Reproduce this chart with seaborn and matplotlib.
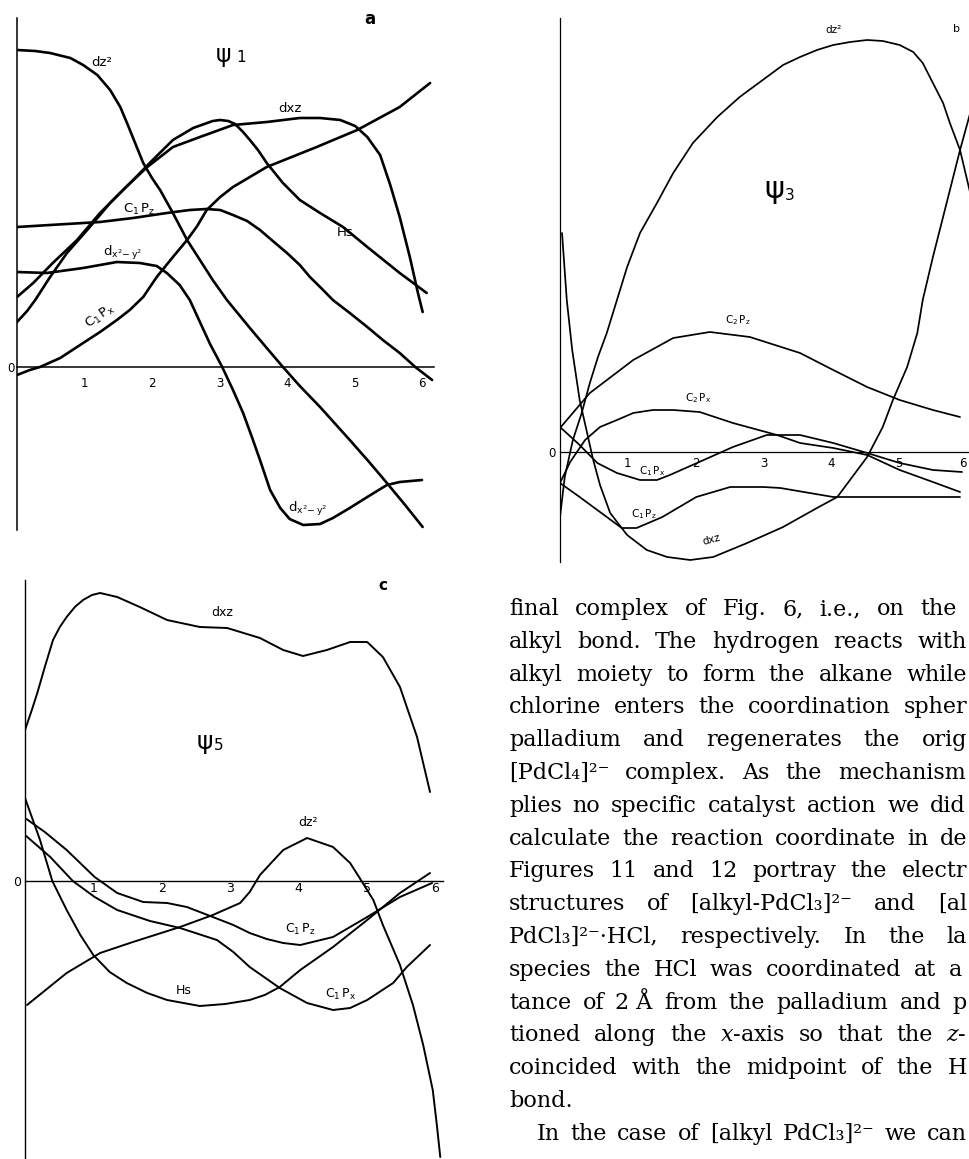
import matplotlib
matplotlib.use("Agg")
import matplotlib.pyplot as plt
import pandas as pd
import seaborn as sns

# ---------------------------------------------------------------------------
# LCAO coefficients along the reaction coordinate (x in Angstrom, y arbitrary)
# ---------------------------------------------------------------------------

# (a) psi_1
A_DZ2_X = [0.0, 0.27, 0.49, 0.79, 0.98, 1.19, 1.38, 1.53, 1.63, 1.75, 1.87, 2.00, 2.12, 2.31,
           2.52, 2.71, 2.90, 3.11, 3.45, 3.70, 3.94, 4.19, 4.49, 4.93, 5.23, 5.48, 5.75, 6.01]
A_DZ2_Y = [3.17, 3.16, 3.14, 3.09, 3.02, 2.92, 2.77, 2.60, 2.44, 2.24, 2.04, 1.89, 1.77, 1.54,
           1.27, 1.07, 0.87, 0.67, 0.39, 0.19, 0.00, -0.19, -0.40, -0.73, -0.96, -1.16, -1.38, -1.60]

A_DXZ_X = [0.0, 0.24, 0.53, 0.89, 1.23, 1.57, 1.93, 2.31, 2.71, 3.20, 3.70, 4.19, 4.49, 4.79,
           5.01, 5.19, 5.38, 5.53, 5.67, 5.82, 5.94, 6.01]
A_DXZ_Y = [0.70, 0.84, 1.04, 1.27, 1.54, 1.77, 2.00, 2.20, 2.30, 2.42, 2.45, 2.49, 2.49, 2.47,
           2.41, 2.30, 2.12, 1.82, 1.50, 1.10, 0.74, 0.55]

A_HS_X = [0.0, 0.15, 0.27, 0.49, 0.74, 1.04, 1.38, 1.72, 2.01, 2.31, 2.61, 2.90, 3.01, 3.13,
          3.23, 3.35, 3.45, 3.57, 3.70, 3.94, 4.19, 4.49, 4.83, 5.19, 5.67, 6.07]
A_HS_Y = [0.45, 0.56, 0.67, 0.90, 1.14, 1.37, 1.64, 1.87, 2.07, 2.27, 2.39, 2.46, 2.47, 2.46,
          2.43, 2.35, 2.27, 2.17, 2.04, 1.84, 1.67, 1.54, 1.40, 1.20, 0.94, 0.74]

A_C1PZ_X = [0.0, 0.49, 1.23, 1.72, 2.22, 2.56, 2.81, 3.01, 3.20, 3.41, 3.60, 3.79, 4.00, 4.19,
            4.34, 4.52, 4.68, 4.93, 5.19, 5.42, 5.67, 5.90, 6.15]
A_C1PZ_Y = [1.40, 1.42, 1.45, 1.49, 1.54, 1.57, 1.58, 1.57, 1.52, 1.46, 1.37, 1.26, 1.14, 1.02,
            0.90, 0.78, 0.67, 0.54, 0.40, 0.27, 0.14, 0.00, -0.13]

A_C1PX_X = [0.0, 0.19, 0.34, 0.64, 0.98, 1.23, 1.48, 1.67, 1.87, 2.07, 2.31, 2.52, 2.67, 2.81,
            3.01, 3.20, 3.70, 4.44, 5.04, 5.67, 6.12]
A_C1PX_Y = [-0.08, -0.03, 0.00, 0.09, 0.24, 0.35, 0.47, 0.57, 0.70, 0.90, 1.10, 1.27, 1.41, 1.57,
            1.70, 1.80, 2.00, 2.20, 2.37, 2.60, 2.84]

A_DX2Y2_X = [0.0, 0.44, 0.98, 1.48, 1.82, 2.07, 2.22, 2.41, 2.56, 2.71, 2.86, 3.04, 3.20, 3.35,
             3.48, 3.60, 3.75, 3.90, 4.04, 4.24, 4.49, 4.68, 4.93, 5.19, 5.48, 5.67, 6.00]
A_DX2Y2_Y = [0.95, 0.94, 0.99, 1.05, 1.04, 1.01, 0.94, 0.82, 0.67, 0.45, 0.23, 0.00, -0.23, -0.46,
             -0.70, -0.93, -1.23, -1.41, -1.52, -1.58, -1.57, -1.51, -1.41, -1.30, -1.18, -1.15, -1.13]

# (b) psi_3
B_DZ2_X = [0.0, 0.07, 0.19, 0.32, 0.44, 0.56, 0.69, 0.84, 0.99, 1.18, 1.43, 1.67, 1.96, 2.32,
           2.65, 3.05, 3.29, 3.54, 3.79, 4.03, 4.28, 4.53, 4.76, 5.01, 5.21, 5.35, 5.50, 5.65,
           5.75, 5.90, 6.05]
B_DZ2_Y = [-0.65, -0.25, 0.12, 0.39, 0.69, 0.95, 1.19, 1.52, 1.85, 2.19, 2.49, 2.79, 3.09, 3.35,
           3.55, 3.75, 3.87, 3.95, 4.02, 4.07, 4.10, 4.12, 4.11, 4.07, 4.00, 3.89, 3.69, 3.49,
           3.29, 3.02, 2.59]

B_DXZ_X = [0.03, 0.10, 0.18, 0.29, 0.40, 0.49, 0.59, 0.74, 0.99, 1.28, 1.58, 1.92, 2.26, 2.76,
           3.29, 3.79, 4.09, 4.53, 4.76, 4.91, 5.12, 5.27, 5.35, 5.50, 5.65, 5.90, 6.05]
B_DXZ_Y = [2.19, 1.52, 1.02, 0.52, 0.19, -0.08, -0.33, -0.61, -0.83, -0.98, -1.05, -1.08, -1.05,
           -0.91, -0.75, -0.56, -0.45, -0.05, 0.25, 0.52, 0.85, 1.19, 1.52, 1.95, 2.35, 3.02, 3.39]

B_C2PZ_X = [0.0, 0.44, 1.08, 1.67, 2.21, 2.80, 3.54, 4.03, 4.53, 5.01, 5.50, 5.90]
B_C2PZ_Y = [0.24, 0.59, 0.92, 1.14, 1.20, 1.15, 0.99, 0.82, 0.65, 0.52, 0.42, 0.35]

B_C2PX_X = [0.0, 0.15, 0.37, 0.59, 0.84, 1.08, 1.37, 1.67, 2.06, 2.55, 3.20, 3.54, 4.03, 4.53,
            5.01, 5.50, 5.90]
B_C2PX_Y = [-0.31, -0.10, 0.12, 0.25, 0.32, 0.39, 0.42, 0.42, 0.40, 0.29, 0.17, 0.09, 0.04,
            -0.03, -0.18, -0.30, -0.40]

B_C1PX_X = [0.0, 0.29, 0.55, 0.84, 1.18, 1.43, 1.62, 2.02, 2.55, 3.05, 3.54, 4.03, 4.53, 5.01,
            5.50, 5.93]
B_C1PX_Y = [0.25, 0.07, -0.11, -0.21, -0.28, -0.28, -0.23, -0.11, 0.05, 0.17, 0.17, 0.09, -0.01,
            -0.11, -0.18, -0.20]

B_C1PZ_X = [0.0, 0.29, 0.55, 0.91, 1.13, 1.51, 2.01, 2.51, 3.00, 3.25, 4.03, 5.01, 5.90]
B_C1PZ_Y = [-0.31, -0.45, -0.58, -0.76, -0.76, -0.65, -0.45, -0.35, -0.35, -0.36, -0.45, -0.45, -0.45]

# (c) psi_5
C_DXZ_X = [0.0, 0.10, 0.18, 0.29, 0.41, 0.51, 0.61, 0.73, 0.85, 0.98, 1.10, 1.35, 1.68, 2.08,
           2.56, 2.96, 3.44, 3.78, 4.07, 4.42, 4.76, 5.01, 5.24, 5.49, 5.74, 5.93]
C_DXZ_Y = [1.51, 1.71, 1.88, 2.14, 2.41, 2.54, 2.64, 2.74, 2.81, 2.86, 2.88, 2.84, 2.74, 2.61,
           2.54, 2.53, 2.43, 2.31, 2.25, 2.31, 2.39, 2.39, 2.24, 1.94, 1.44, 0.89]

C_DZ2_X = [0.03, 0.61, 1.10, 1.58, 2.27, 2.75, 3.15, 3.29, 3.44, 3.78, 4.13, 4.51, 4.76, 4.90,
           5.10, 5.24, 5.49, 5.68, 5.83, 5.97, 6.03, 6.08]
C_DZ2_Y = [-1.24, -0.92, -0.72, -0.61, -0.46, -0.34, -0.22, -0.11, 0.06, 0.31, 0.43, 0.34, 0.18,
           0.03, -0.19, -0.44, -0.84, -1.24, -1.64, -2.09, -2.44, -2.76]

C_HS_X = [0.0, 0.22, 0.40, 0.61, 0.81, 1.00, 1.24, 1.49, 1.79, 2.08, 2.56, 2.93, 3.29, 3.51,
          3.73, 4.03, 4.51, 5.01, 5.49, 5.93]
C_HS_Y = [0.83, 0.41, 0.00, -0.29, -0.54, -0.74, -0.91, -1.02, -1.12, -1.19, -1.25, -1.23,
          -1.19, -1.14, -1.06, -0.89, -0.66, -0.39, -0.12, 0.08]

C_C1PZ_X = [0.0, 0.29, 0.61, 1.02, 1.35, 1.73, 2.08, 2.37, 2.75, 3.05, 3.29, 3.54, 3.78, 4.03,
            4.51, 5.01, 5.49, 5.96]
C_C1PZ_Y = [0.63, 0.49, 0.31, 0.04, -0.12, -0.21, -0.22, -0.26, -0.36, -0.44, -0.52, -0.58,
            -0.62, -0.64, -0.56, -0.36, -0.16, -0.02]

C_C1PX_X = [0.0, 0.37, 0.70, 1.02, 1.35, 1.83, 2.27, 2.81, 3.05, 3.29, 3.73, 4.13, 4.51, 4.76,
            5.01, 5.39, 5.59, 5.93]
C_C1PX_Y = [0.46, 0.24, 0.00, -0.16, -0.29, -0.40, -0.47, -0.59, -0.71, -0.86, -1.07, -1.22,
            -1.29, -1.27, -1.19, -1.02, -0.86, -0.64]

X_TICKS = [1, 2, 3, 4, 5, 6]
X_TICK_LABELS = ["1", "2", "3", "4", "5", "6"]

# Running text set beside panel c
TEXT_LINES = [
    "final complex of Fig. 6, i.e., on the",
    "alkyl bond. The hydrogen reacts with",
    "alkyl moiety to form the alkane while",
    "chlorine enters the coordination spher",
    "palladium and regenerates the orig",
    "[PdCl\u2084]\u00b2\u207b complex. As the mechanism",
    "plies no specific catalyst action we did",
    "calculate the reaction coordinate in de",
    "Figures 11 and 12 portray the electr",
    "structures of [alkyl-PdCl\u2083]\u00b2\u207b and [al",
    "PdCl\u2083]\u00b2\u207b\u00b7HCl, respectively. In the la",
    "species the HCl was coordinated at a",
    "tance of 2\u00a0\u00c5 from the palladium and p",
    "tioned along the $x$-axis so that the $z$-",
    "coincided with the midpoint of the H",
    "bond.",
    "In the case of [alkyl PdCl\u2083]\u00b2\u207b we can",
]

# ---------------------------------------------------------------------------
sns.set_theme(style="white", rc={
    "axes.edgecolor": "black", "text.color": "black",
    "xtick.color": "black", "ytick.color": "black", "axes.labelcolor": "black",
})
plt.rcParams["font.family"] = ["DejaVu Sans"]
plt.rcParams["mathtext.fontset"] = "custom"
plt.rcParams["mathtext.rm"] = "DejaVu Sans"
plt.rcParams["mathtext.it"] = "DejaVu Serif:italic"

FW, FH = 970, 1159
fig = plt.figure(figsize=(FW / 100, FH / 100), dpi=100)
fig.patch.set_facecolor("white")


def box(left, top, right, bottom):
    return [left / FW, 1 - bottom / FH, (right - left) / FW, (bottom - top) / FH]


def frame(curves):
    parts = [pd.DataFrame({"x": xs, "y": ys, "orbital": name}) for name, xs, ys in curves]
    return pd.concat(parts, ignore_index=True)


def style(ax, xmax, ylo, yhi, lab_size, lab_pad, tick_len, zero_pad, spine_w):
    ax.set_xlim(0, xmax)
    ax.set_ylim(ylo, yhi)
    ax.patch.set_alpha(0)
    for side in ("top", "right"):
        ax.spines[side].set_visible(False)
    ax.spines["bottom"].set_position(("data", 0))
    ax.spines["bottom"].set_bounds(0, xmax)
    ax.spines["bottom"].set_linewidth(spine_w)
    ax.spines["left"].set_linewidth(spine_w)
    ax.set_xticks(X_TICKS)
    ax.set_xticklabels(X_TICK_LABELS)
    ax.tick_params(axis="x", direction="in", length=tick_len, width=0.8,
                   pad=lab_pad, labelsize=lab_size)
    ax.set_yticks([0])
    ax.set_yticklabels(["0"])
    ax.tick_params(axis="y", length=0, pad=zero_pad, labelsize=lab_size)
    ax.set_xlabel("")
    ax.set_ylabel("")


def draw(ax, curves, lw):
    sns.lineplot(data=frame(curves), x="x", y="y", units="orbital", estimator=None,
                 sort=False, color="black", lw=lw, legend=False, ax=ax,
                 solid_joinstyle="round", solid_capstyle="round")


# ----- panel a -----
ax_a = fig.add_axes(box(17, 18, 434, 530))
draw(ax_a, [
    ("dz2", A_DZ2_X, A_DZ2_Y),
    ("dxz", A_DXZ_X, A_DXZ_Y),
    ("Hs", A_HS_X, A_HS_Y),
    ("C1Pz", A_C1PZ_X, A_C1PZ_Y),
    ("C1Px", A_C1PX_X, A_C1PX_Y),
    ("dx2-y2", A_DX2Y2_X, A_DX2Y2_Y),
], lw=1.9)
style(ax_a, 6.178, -1.63, 3.49, 8.5, 7, 3.5, 1.5, 1.1)

# ----- panel b -----
ax_b = fig.add_axes(box(560, 18, 970, 562))
draw(ax_b, [
    ("dz2", B_DZ2_X, B_DZ2_Y),
    ("dxz", B_DXZ_X, B_DXZ_Y),
    ("C2Pz", B_C2PZ_X, B_C2PZ_Y),
    ("C2Px", B_C2PX_X, B_C2PX_Y),
    ("C1Px", B_C1PX_X, B_C1PX_Y),
    ("C1Pz", B_C1PZ_X, B_C1PZ_Y),
], lw=1.25)
style(ax_b, 6.047, -1.10, 4.34, 8.5, 3.5, 3.0, 3.0, 0.9)
ax_b.get_xticklabels()[-1].set_horizontalalignment("right")

# ----- panel c -----
ax_c = fig.add_axes(box(25, 580, 443, 1159))
draw(ax_c, [
    ("dxz", C_DXZ_X, C_DXZ_Y),
    ("dz2", C_DZ2_X, C_DZ2_Y),
    ("Hs", C_HS_X, C_HS_Y),
    ("C1Pz", C_C1PZ_X, C_C1PZ_Y),
    ("C1Px", C_C1PX_X, C_C1PX_Y),
], lw=1.4)
style(ax_c, 6.12, -2.78, 3.01, 9, 1.0, 3.0, 3.0, 1.0)


def label(x, y, s, size, rot=0, weight="normal"):
    fig.text(x / FW, 1 - y / FH, s, ha="center", va="center", fontsize=size,
             rotation=rot, fontweight=weight, family="DejaVu Sans")


C1PZ = r"$\mathregular{C_1\,P_z}$"
C1PX = r"$\mathregular{C_1\,P_x}$"
C2PZ = r"$\mathregular{C_2\,P_z}$"
C2PX = r"$\mathregular{C_2\,P_x}$"
DX2Y2 = r"$\mathregular{d_{x^2\!-y^2}}$"

# panel a annotations
label(370, 19, "a", 12, weight="bold")
label(224, 55, "\u03c8", 17)
label(241, 58, "1", 11)
label(102, 62, "dz\u00b2", 9.5)
label(290, 109, "dxz", 9.5)
label(139, 209, C1PZ, 9.5)
label(345, 233, "Hs", 9.5)
label(123, 253, DX2Y2, 9.5)
label(100, 316, C1PX, 9.5, rot=35)
label(308, 509, DX2Y2, 9.5)

# panel b annotations
label(834, 30, "dz\u00b2", 7.5)
label(957, 29, "b", 8)
label(774, 190, "\u03c8", 22)
label(790, 196, "3", 11)
label(738, 320, C2PZ, 7.5)
label(698, 398, C2PX, 7.5)
label(652, 471, C1PX, 7.5)
label(644, 514, C1PZ, 7.5)
label(711, 540, "dxz", 7.5, rot=15)

# panel c annotations
label(383, 585, "c", 11, weight="bold")
label(222, 613, "dxz", 9)
label(205, 742, "\u03c8", 18)
label(219, 745, "5", 11)
label(308, 823, "dz\u00b2", 9)
label(300, 929, C1PZ, 9)
label(184, 990, "Hs", 9)
label(341, 994, C1PX, 9)

# ----- justified text column -----
SERIF = ["DejaVu Serif", "DejaVu Sans"]
renderer = fig.canvas.get_renderer()


def text_width(s, size):
    t = fig.text(0, 0, s, fontsize=size, family=SERIF)
    w = t.get_window_extent(renderer).width
    t.remove()
    return w


line_left = [509] * len(TEXT_LINES)
line_left[-1] = 537
line_right = [957, 967, 967, 967, 967, 966, 966, 967, 967, 967, 967, 962, 967, 967, 967, None, 967]
base_size = 16.0
space = text_width("a a", base_size) - text_width("aa", base_size)
fit = 1.0
for s, lft, rgt in zip(TEXT_LINES, line_left, line_right):
    if rgt is None:
        continue
    words = s.split(" ")
    nat = sum(text_width(w, base_size) for w in words) + 0.75 * space * (len(words) - 1)
    fit = min(fit, (rgt - lft) / nat)
size = base_size * fit

for k, (s, lft, rgt) in enumerate(zip(TEXT_LINES, line_left, line_right)):
    baseline = 615 + 32.8 * k
    words = s.split(" ")
    widths = [text_width(w, size) for w in words]
    if rgt is None or len(words) == 1:
        gap = space * fit
    else:
        gap = (rgt - lft - sum(widths)) / (len(words) - 1)
    x = lft
    for w, wd in zip(words, widths):
        fig.text(x / FW, 1 - baseline / FH, w, fontsize=size, family=SERIF,
                 ha="left", va="baseline")
        x += wd + gap

fig.savefig("out.png", dpi=100, facecolor="white")
